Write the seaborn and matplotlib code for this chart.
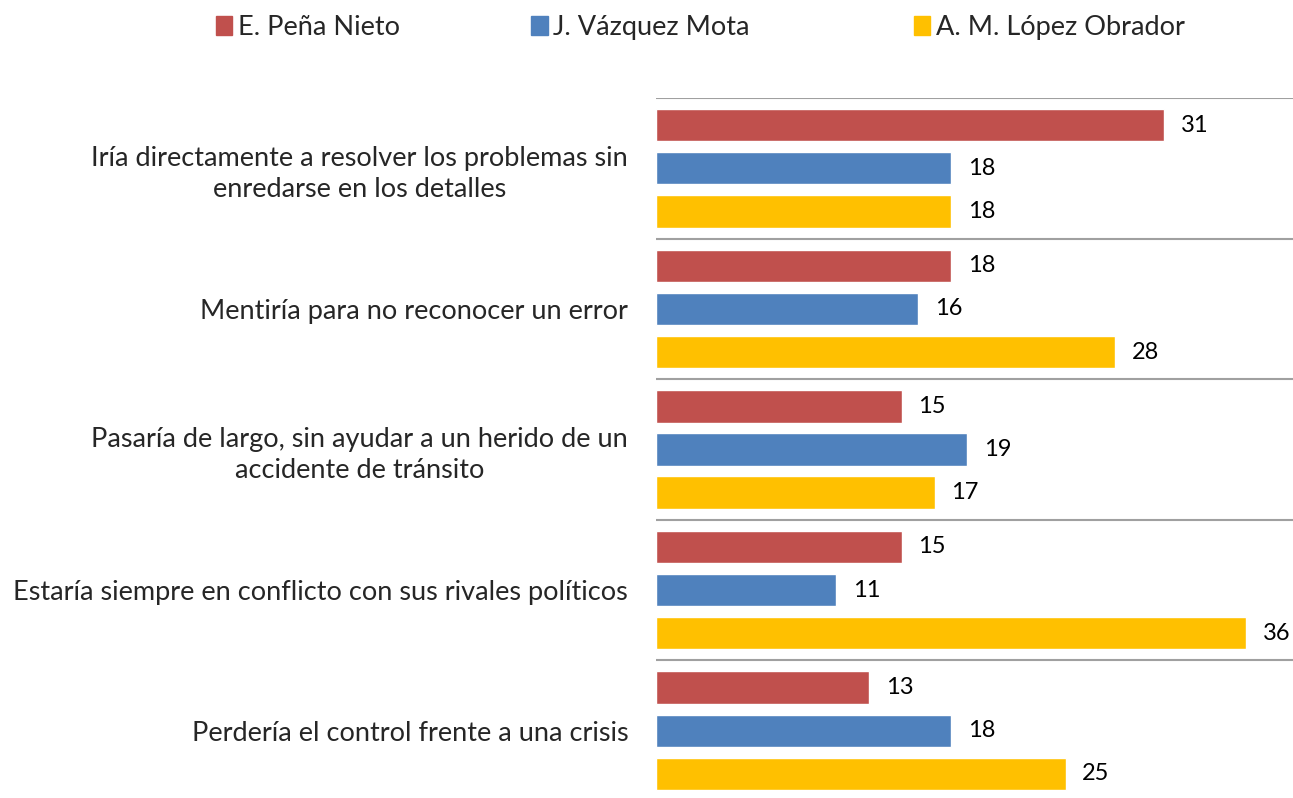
import pandas as pd
import seaborn as sns
import matplotlib.pyplot as plt

# --- Data ---
categories = [
    "Iría directamente a resolver los problemas sin\nenredarse en los detalles",
    "Mentiría para no reconocer un error",
    "Pasaría de largo, sin ayudar a un herido de un\naccidente de tránsito",
    "Estaría siempre en conflicto con sus rivales políticos",
    "Perdería el control frente a una crisis",
]
candidates = ["E. Peña Nieto", "J. Vázquez Mota", "A. M. López Obrador"]
pena_nieto = [31, 18, 15, 15, 13]
vazquez_mota = [18, 16, 19, 11, 18]
lopez_obrador = [18, 28, 17, 36, 25]
colors = ["#C0504D", "#4F81BD", "#FFC000"]

# Long table for seaborn
rows = []
for cand, vals in zip(candidates, [pena_nieto, vazquez_mota, lopez_obrador]):
    for cat, v in zip(categories, vals):
        rows.append({"categoria": cat, "candidato": cand, "valor": v})
df = pd.DataFrame(rows)

# Chart appearance settings
sns.set_theme(style="white")
plt.rcParams['font.family'] = ['Lato', 'DejaVu Sans']
plt.rcParams['font.size'] = 16

fig = plt.figure(figsize=(12.93, 7.98), dpi=100)
ax = fig.add_axes([656 / 1293, -3 / 798, 637 / 1293, 703 / 798])

sns.barplot(data=df, y="categoria", x="valor", hue="candidato", orient="h",
            order=categories, hue_order=candidates, palette=colors,
            width=0.92, gap=0.25, saturation=1, ax=ax, legend=False)

for container in ax.containers:
    ax.bar_label(container, padding=12, fontsize=17, color="black")

# Category separators
ax.set_yticks([i + 0.5 for i in range(-1, len(categories))], minor=True)
ax.grid(True, which="minor", axis="y", color="#A0A0A0", linewidth=1.5)
ax.grid(False, which="major")
ax.tick_params(axis="y", which="both", length=0, pad=20, labelsize=19.5)
ax.set_yticklabels(categories, multialignment="center", linespacing=1.3)
ax.set_ylim(len(categories) - 0.5, -0.5)
ax.set_xlim(0, 38.87)
ax.set_xticks([])
ax.set_xlabel("")
ax.set_ylabel("")
for s in ax.spines.values():
    s.set_visible(False)

# Legend on top, one entry per candidate
legend_x = [0.167, 0.411, 0.707]
for cand, col, lx in zip(candidates, colors, legend_x):
    fig.legend([plt.Rectangle((0, 0), 1, 1, color=col)], [cand],
               loc="center left", bbox_to_anchor=(lx, 0.966), frameon=False,
               fontsize=19.5, handlelength=0.6, handleheight=0.7,
               handletextpad=0.2, borderaxespad=0, borderpad=0)

fig.savefig("out.png", dpi=100)
plt.close()
